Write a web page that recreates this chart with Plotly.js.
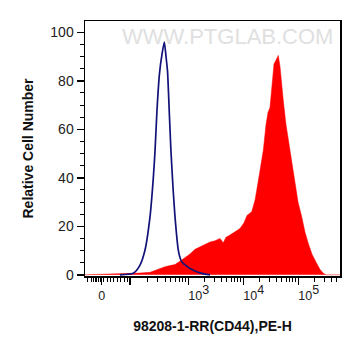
<!DOCTYPE html>
<html>
<head>
<meta charset="utf-8">
<script src="https://cdn.plot.ly/plotly-3.0.1.min.js"></script>
<style>html,body{margin:0;padding:0;background:#fff;}#chart{width:361px;height:356px;}</style>
</head>
<body>
<div id="chart"></div>
<script>
// x values are in display (biexponential-like) units: 3 = 10^3, 4 = 10^4, 5 = 10^5
const isotypeX = [1.758, 2.000, 2.122, 2.213, 2.304, 2.364, 2.395, 2.431, 2.476, 2.522, 2.564, 2.595, 2.622, 2.658, 2.685, 2.722, 2.758, 2.818, 2.867, 2.909, 2.976, 3.031, 3.122, 3.213, 3.304, 3.395];
const isotypeY = [0, 0.6, 4, 10.2, 24, 40, 51, 68, 83, 91, 96, 90, 84, 65, 51, 36, 24, 10.2, 6, 4.7, 3.5, 2.6, 1.6, 0.8, 0.3, 0];

const cd44X = [1.122, 1.395, 1.576, 1.760, 1.940, 2.122, 2.304, 2.395, 2.485, 2.576, 2.667, 2.758, 2.849, 2.940, 3.031, 3.122, 3.213, 3.304, 3.395, 3.485, 3.576, 3.636, 3.685, 3.758, 3.849, 3.940, 4.013, 4.067, 4.153, 4.213, 4.267, 4.304, 4.364, 4.413, 4.449, 4.485, 4.522, 4.558, 4.604, 4.636, 4.667, 4.704, 4.731, 4.776, 4.849, 4.940, 4.995, 5.062, 5.122, 5.182, 5.249, 5.335, 5.395, 5.455, 5.504, 5.758];
const cd44Y = [0, 0.2, 0.1, 0.3, 0.5, 0.7, 1.0, 1.8, 2.6, 3.3, 3.8, 4.2, 5.6, 7.0, 8.6, 10.5, 11.5, 12.5, 13.5, 14.0, 15.0, 13.2, 15.5, 16.4, 17.8, 19.1, 21.5, 24.5, 26, 30.8, 38, 43, 51.4, 62, 67, 69, 80, 87, 89, 90.5, 86, 76, 71, 62, 51.4, 37.8, 30, 23.9, 17.5, 12.9, 8.5, 4.7, 2.2, 0.6, 0, 0];

const xTickVals = [1.425, 1.94, 3, 4, 5];
const pad = "&nbsp;&nbsp;&nbsp;&nbsp;&nbsp;&nbsp;";
const xTickText = ["0", "", pad + "10<sup><span style=\"font-size:12.5px\">3</span></sup>", pad + "10<sup><span style=\"font-size:12.5px\">4</span></sup>", pad + "10<sup><span style=\"font-size:12.5px\">5</span></sup>"];
const xMinorVals = [1.176, 1.231, 1.276, 1.313, 1.340, 1.367, 1.395, 1.467, 1.522, 1.585, 1.649, 1.713, 1.776, 1.840, 1.895,
  2.259, 2.446, 2.578, 2.681, 2.765, 2.836, 2.897, 2.951,
  3.301, 3.477, 3.602, 3.699, 3.778, 3.845, 3.903, 3.954,
  4.301, 4.477, 4.602, 4.699, 4.778, 4.845, 4.903, 4.954,
  5.301, 5.477, 5.602, 5.699];
const yTickVals = [0, 20, 40, 60, 80, 100];

const font = "Liberation Sans, Arial, sans-serif";

const traces = [
  {x: cd44X, y: cd44Y, type: "scatter", mode: "lines", fill: "tozeroy",
   fillcolor: "#ff0000", line: {color: "#ff0000", width: 0.5}, hoverinfo: "skip"},
  {x: isotypeX, y: isotypeY, type: "scatter", mode: "lines",
   line: {color: "#12127a", width: 1.7, shape: "spline", smoothing: 0.6}, hoverinfo: "skip"}
];

const layout = {
  width: 361, height: 356,
  margin: {l: 85, r: 21, t: 21, b: 80},
  paper_bgcolor: "#fff", plot_bgcolor: "#fff",
  showlegend: false,
  font: {family: font, color: "#222", size: 14},
  xaxis: {
    range: [1.122, 5.758], showgrid: false, zeroline: false,
    showline: true, mirror: true, linecolor: "#000", linewidth: 1.5,
    tickmode: "array", tickvals: xTickVals, ticktext: xTickText,
    ticks: "outside", ticklen: 7, tickwidth: 1.5, tickcolor: "#000",
    tickfont: {family: font, size: 12.5, color: "#222"},
    minor: {tickmode: "array", tickvals: xMinorVals, ticks: "outside", ticklen: 4, tickwidth: 1, tickcolor: "#000", showgrid: false},
    title: {text: "98208-1-RR(CD44),PE-H", font: {family: font, size: 14, color: "#111", weight: "bold"}, standoff: 19}
  },
  yaxis: {
    range: [-0.5, 104.7], showgrid: false, zeroline: false,
    showline: true, mirror: true, linecolor: "#000", linewidth: 1.5,
    tickmode: "array", tickvals: yTickVals,
    ticks: "outside", ticklen: 7, tickwidth: 1.5, tickcolor: "#000",
    tickfont: {family: font, size: 14, color: "#222"},
    minor: {dtick: 5, tick0: 0, ticks: "outside", ticklen: 4, tickwidth: 1, tickcolor: "#000", showgrid: false},
    title: {text: "Relative Cell Number", font: {family: font, size: 14, color: "#111", weight: "bold"}, standoff: 13}
  },
  annotations: [
    {text: "WWW.PTGLAB.COM", xref: "paper", yref: "paper", x: 0.56, y: 0.997, xanchor: "center", yanchor: "top",
     showarrow: false, font: {family: font, size: 22, color: "#e0e0e0"}}
  ]
};

Plotly.newPlot("chart", traces, layout, {displayModeBar: false, staticPlot: true});
</script>
</body>
</html>
